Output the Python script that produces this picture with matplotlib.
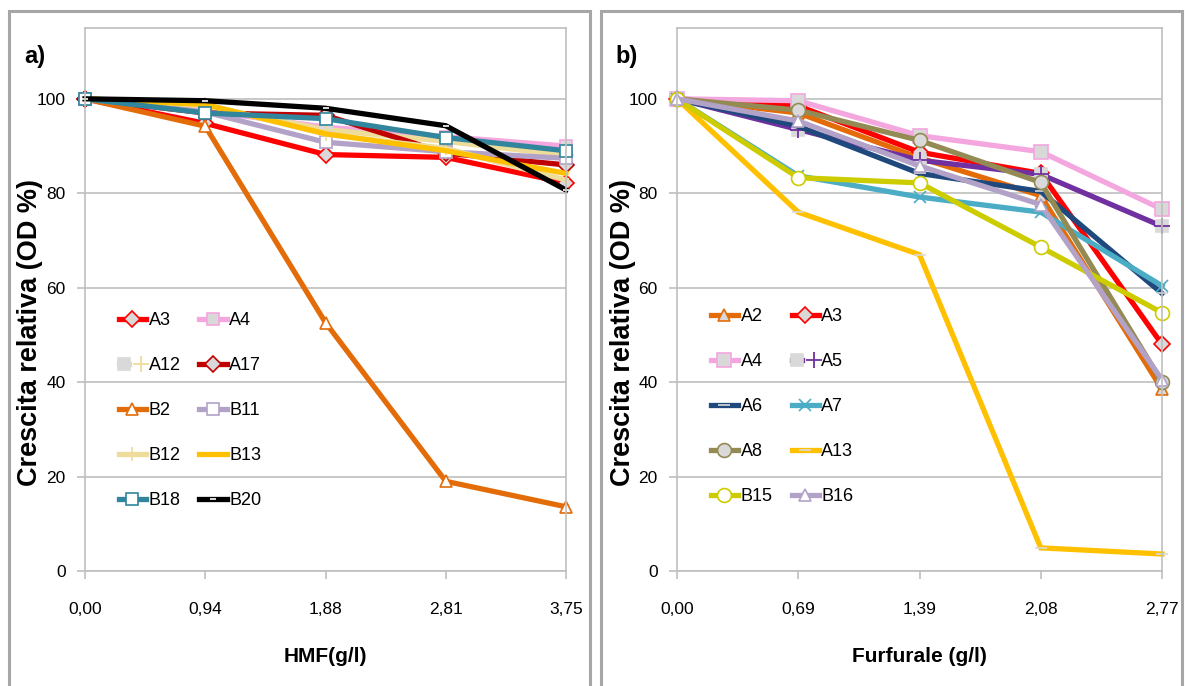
import numpy as np
import matplotlib
matplotlib.use("Agg")
import matplotlib.pyplot as plt
from matplotlib.patches import Rectangle
from matplotlib.legend_handler import HandlerTuple

plt.rcParams['font.family'] = ['Liberation Sans', 'DejaVu Sans']

# panel a) HMF
hmf_labels = ['0,00', '0,94', '1,88', '2,81', '3,75']
a_A3 = [100, 94.8, 88.2, 87.6, 82.2]
a_A4 = [100, 97.5, 94.0, 92.0, 90.0]
a_A12 = [100, 98.5, 93.5, 91.0, 88.0]
a_A17 = [100, 97.0, 96.5, 88.5, 86.0]
a_B2 = [100, 94.2, 52.6, 19.0, 13.6]
a_B11 = [100, 97.2, 90.8, 88.8, 87.4]
a_B12 = [100, 98.8, 92.5, 89.5, 82.8]
a_B13 = [100, 98.8, 92.6, 89.0, 84.2]
a_B18 = [100, 97.0, 95.8, 91.8, 89.0]
a_B20 = [100, 99.6, 98.0, 94.3, 80.7]

# panel b) furfurale
furf_labels = ['0,00', '0,69', '1,39', '2,08', '2,77']
b_A2 = [100, 97.0, 87.5, 79.5, 38.5]
b_A3 = [100, 98.5, 88.7, 84.2, 48.0]
b_A4 = [100, 99.6, 92.2, 88.8, 76.6]
b_A5 = [100, 93.5, 87.0, 84.0, 73.0]
b_A6 = [100, 94.2, 84.2, 80.4, 58.8]
b_A7 = [100, 83.7, 79.2, 76.0, 60.4]
b_A8 = [100, 97.6, 91.2, 82.3, 40.0]
b_A13 = [100, 76.0, 67.0, 4.9, 3.6]
b_B15 = [100, 83.3, 82.2, 68.6, 54.7]
b_B16 = [100, 95.3, 85.8, 77.6, 40.5]

GRAY = '#d9d9d9'
W = 'white'

# name, values, color, marker, face, edge, size
series_a = [
    ('A3', a_A3, '#ff0000', 'D', GRAY, '#ff0000', 8),
    ('A4', a_A4, '#f4a6de', 's', GRAY, '#f4a6de', 9),
    ('A12', a_A12, '#eedc9a', 's', GRAY, GRAY, 8),
    ('A17', a_A17, '#c00000', 'D', GRAY, '#c00000', 8),
    ('B2', a_B2, '#e36c09', '^', W, '#e36c09', 9),
    ('B11', a_B11, '#b3a2c7', 's', W, '#b3a2c7', 8),
    ('B12', a_B12, '#eedc9a', '|', W, '#eedc9a', 10),
    ('B13', a_B13, '#ffc000', None, W, '#ffc000', 0),
    ('B18', a_B18, '#31859c', 's', W, '#31859c', 8),
    ('B20', a_B20, '#000000', '_', W, '#ffffff', 5),
]

series_b = [
    ('A2', b_A2, '#e36c09', '^', GRAY, '#e36c09', 9),
    ('A3', b_A3, '#ff0000', 'D', GRAY, '#ff0000', 8),
    ('A4', b_A4, '#f4a6de', 's', GRAY, '#f4a6de', 10),
    ('A5', b_A5, '#7030a0', 's', GRAY, GRAY, 8),
    ('A6', b_A6, '#1f497d', '_', W, GRAY, 8),
    ('A7', b_A7, '#4bacc6', 'x', W, '#4bacc6', 8),
    ('A8', b_A8, '#948a54', 'o', GRAY, '#948a54', 10),
    ('A13', b_A13, '#ffc000', '_', W, GRAY, 8),
    ('B15', b_B15, '#cccc00', 'o', W, '#cccc00', 10),
    ('B16', b_B16, '#b3a2c7', '^', W, '#b3a2c7', 9),
]
plus_overlay = {'a': ['A12'], 'b': ['A5']}

fig = plt.figure(figsize=(11.85, 6.86), dpi=100)

# panel frames
fig.patches.append(Rectangle((9 / 1185, -0.01), 581 / 1185, 1 - 11 / 686 + 0.01,
                             transform=fig.transFigure, fill=False,
                             edgecolor='#a6a6a6', linewidth=2.2))
fig.patches.append(Rectangle((601 / 1185, -0.01), 581 / 1185, 1 - 11 / 686 + 0.01,
                             transform=fig.transFigure, fill=False,
                             edgecolor='#a6a6a6', linewidth=2.2))


def draw_panel(rect, series, labels, xlabel, tag, key, leg_anchor, ylab_x):
    ax = fig.add_axes(rect)
    x = np.arange(len(labels))
    handles = {}
    for name, vals, col, mk, fc, ec, ms in series:
        ln, = ax.plot(x, vals, color=col, lw=3.8, marker=mk, ms=ms,
                      mfc=fc, mec=ec, mew=1.2, solid_joinstyle='miter',
                      label=name, clip_on=False)
        h = ln
        if name in plus_overlay[key]:
            p, = ax.plot(x, vals, ls='none', marker='+', ms=11, mew=1.3,
                         color=col, clip_on=False, zorder=ln.get_zorder())
            h = (ln, p)
        handles[name] = h
    ax.set_xlim(0, len(labels) - 1)
    ax.set_ylim(0, 115)
    ax.set_yticks([0, 20, 40, 60, 80, 100])
    ax.set_xticks(x)
    ax.set_xticklabels(labels)
    ax.grid(axis='y', color='#bfbfbf', lw=1.2)
    ax.set_axisbelow(True)
    for s in ax.spines.values():
        s.set_color('#bfbfbf')
        s.set_linewidth(1.2)
    ax.tick_params(axis='both', colors='#bfbfbf', labelcolor='black',
                   labelsize=12.5, length=6, width=1.2)
    ax.tick_params(axis='x', pad=16)
    ax.tick_params(axis='y', pad=8)
    ax.set_xlabel(xlabel, fontsize=15, fontweight='bold', labelpad=22)
    ax.set_ylabel('Crescita relativa (OD %)', fontsize=19.5, fontweight='bold')
    ax.yaxis.set_label_coords(ylab_x, 0.44)

    # row-wise legend order like the original
    names = [s[0] for s in series]
    order = names[0::2] + names[1::2]
    ax.legend([handles[n] for n in order], order, ncol=2, frameon=False,
              loc='upper left', bbox_to_anchor=leg_anchor,
              fontsize=13, handlelength=1.5, handletextpad=0.15,
              columnspacing=1.05, labelspacing=1.55, borderaxespad=0,
              handler_map={tuple: HandlerTuple(ndivide=None)})
    ax.text(-0.104, 0.947, tag, transform=ax.transAxes, fontsize=17,
            fontweight='bold', ha='center', va='center')
    return ax


bottom = 1 - 571 / 686
height = (571 - 28) / 686
draw_panel([85 / 1185, bottom, 481 / 1185, height], series_a, hmf_labels,
           'HMF(g/l)', 'a)', 'a', (0.055, 0.49), -0.087)
draw_panel([677 / 1185, bottom, 485 / 1185, height], series_b, furf_labels,
           'Furfurale (g/l)', 'b)', 'b', (0.055, 0.497), -0.085)

fig.savefig('out.png', dpi=100)
